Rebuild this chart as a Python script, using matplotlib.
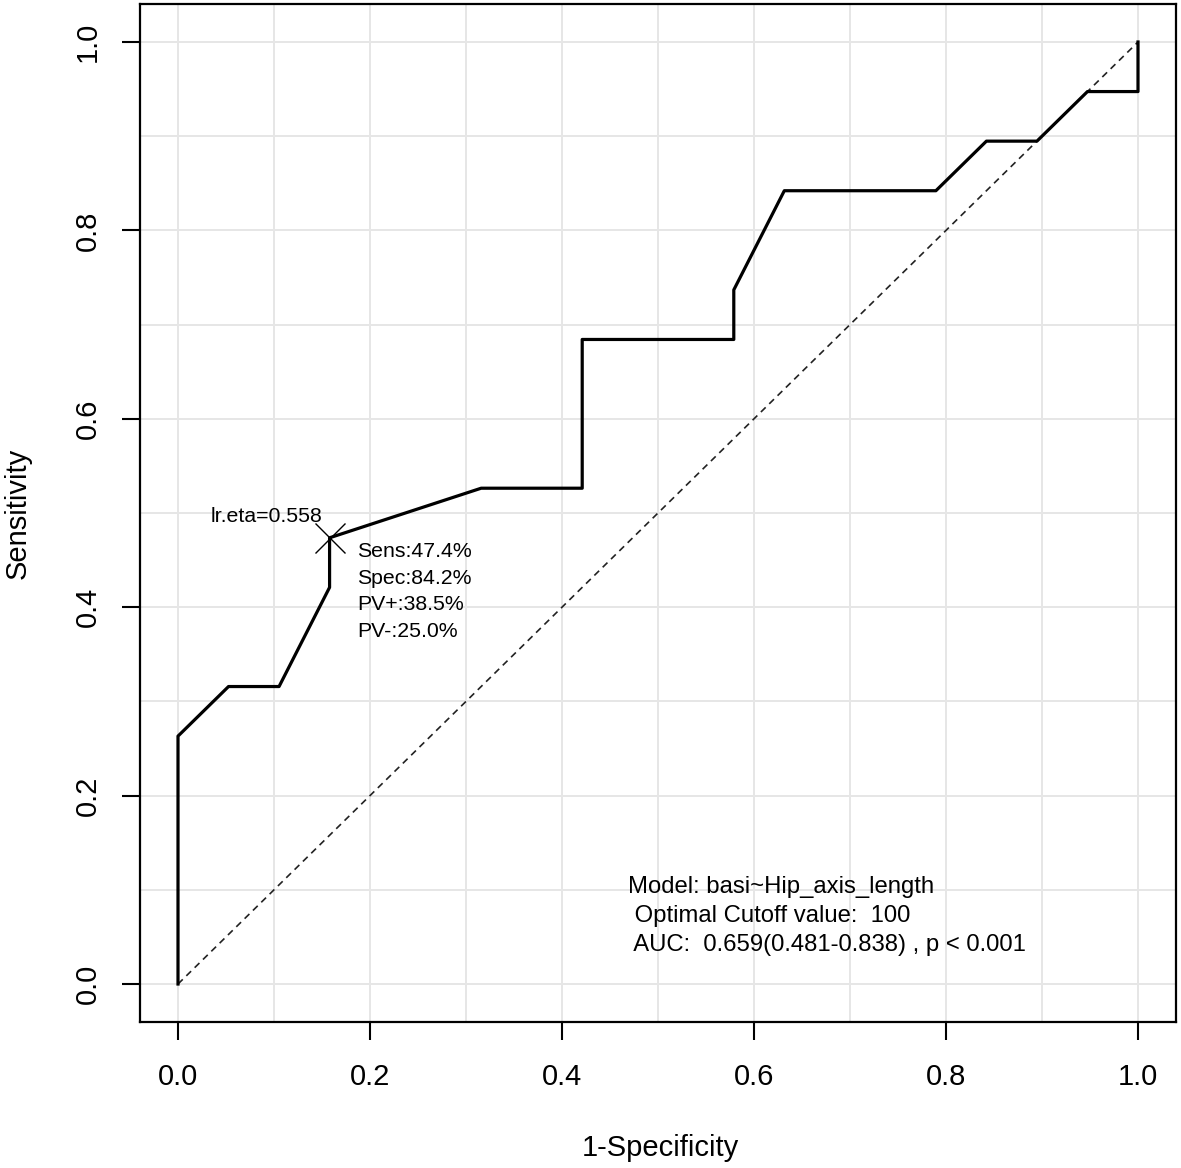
import numpy as np
import matplotlib.pyplot as plt

plt.rcParams['font.family'] = ['Liberation Sans', 'DejaVu Sans']

# ROC curve (1-specificity, sensitivity), steps of 1/19
fpr = [0, 0, 1/19, 2/19, 3/19, 3/19, 6/19, 8/19, 8/19, 11/19, 11/19,
       12/19, 15/19, 16/19, 17/19, 18/19, 1, 1]
tpr = [0, 5/19, 6/19, 6/19, 8/19, 9/19, 10/19, 10/19, 13/19, 13/19, 14/19,
       16/19, 16/19, 17/19, 17/19, 18/19, 18/19, 1]

cut_x, cut_y = 3/19, 9/19
cut_label = 'lr.eta=0.558'
cut_stats = ['Sens:47.4%', 'Spec:84.2%', 'PV+:38.5%', 'PV-:25.0%']
model_text = ['Model: basi~Hip_axis_length',
              ' Optimal Cutoff value:  100',
              ' AUC:  0.659(0.481-0.838) , p < 0.001']

W, H = 1181, 1168
fig = plt.figure(figsize=(W / 100, H / 100), dpi=100)
ax = fig.add_axes([139.6 / W, (H - 1021.7) / H, (1176.4 - 139.6) / W, (1021.7 - 4.3) / H])
ax.set_xlim(-0.04, 1.04)
ax.set_ylim(-0.04, 1.04)

grid = np.arange(0, 1.01, 0.1)
for g in grid:
    ax.axvline(g, color='#e6e6e6', lw=1.4, zorder=0)
    ax.axhline(g, color='#e6e6e6', lw=1.4, zorder=0)

ax.plot([0, 1], [0, 1], ls=(0, (4, 3)), color='#222222', lw=1.2, zorder=2)
ax.plot(fpr, tpr, color='black', lw=2.3, zorder=3)
ax.plot([cut_x], [cut_y], marker='x', ms=22, mew=1.0, color='black', zorder=4)

ax.text(cut_x - 0.008, cut_y + 0.012, cut_label, ha='right', va='bottom', fontsize=15.3)
for i, s in enumerate(cut_stats):
    ax.text(cut_x + 0.029, cut_y - 0.0145 - i * 0.0283, s, ha='left', va='center', fontsize=15.3)

for i, s in enumerate(model_text):
    ax.text(0.469, 0.1025 - i * 0.0305, s, ha='left', va='center', fontsize=17.2)

ticks = np.arange(0, 1.01, 0.2)
ax.set_xticks(ticks)
ax.set_yticks(ticks)
ax.set_xticklabels([f'{t:.1f}' for t in ticks], fontsize=21)
ax.set_yticklabels([f'{t:.1f}' for t in ticks], fontsize=21, rotation=90, va='center')
ax.tick_params(axis='x', length=13, width=1.5, pad=17)
ax.tick_params(axis='y', length=13, width=1.5, pad=14)

for sp in ax.spines.values():
    sp.set_linewidth(1.6)

fig.text(660 / W, 1 - 1148 / H, '1-Specificity', ha='center', va='center', fontsize=21)
fig.text(18 / W, 1 - 513 / H, 'Sensitivity', ha='center', va='center', fontsize=21, rotation=90)

fig.savefig('out.png', dpi=100)
